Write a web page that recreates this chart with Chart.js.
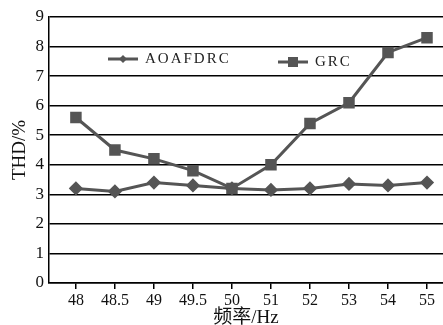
<!DOCTYPE html>
<html>
<head>
<meta charset="utf-8">
<script src="https://cdn.jsdelivr.net/npm/chart.js@4"></script>
<style>
  html, body { margin: 0; padding: 0; background: #fff; }
  #wrap { width: 443px; height: 325px; }
</style>
</head>
<body>
<div id="wrap"><canvas id="graph"></canvas></div>
<script>
const freqLabels = ["48", "48.5", "49", "49.5", "50", "51", "52", "53", "54", "55"];
const aoafdrc = [3.2, 3.1, 3.4, 3.3, 3.2, 3.15, 3.2, 3.35, 3.3, 3.4];
const grc = [5.6, 4.5, 4.2, 3.8, 3.2, 4.0, 5.4, 6.1, 7.8, 8.3];
const yTicks = [0, 1, 2, 3, 4, 5, 6, 7, 8, 9];

const serif = "'Liberation Serif', 'Times New Roman', 'Noto Sans CJK SC', serif";
const lineColor = "#555555";

/* legend drawn inside the plot, like the original */
const innerLegend = {
  id: "innerLegend",
  afterDraw(c) {
    const ctx = c.ctx;
    const items = [
      { ds: c.data.datasets[0], x: 108, y: 59 },
      { ds: c.data.datasets[1], x: 278, y: 62 }
    ];
    ctx.save();
    items.forEach(it => {
      ctx.strokeStyle = lineColor;
      ctx.fillStyle = lineColor;
      ctx.lineWidth = 3;
      ctx.beginPath();
      ctx.moveTo(it.x, it.y);
      ctx.lineTo(it.x + 30, it.y);
      ctx.stroke();
      const cx = it.x + 15;
      ctx.beginPath();
      if (it.ds.pointStyle === "rect") {
        ctx.rect(cx - 5, it.y - 5, 10, 10);
      } else {
        ctx.moveTo(cx, it.y - 4);
        ctx.lineTo(cx + 4, it.y);
        ctx.lineTo(cx, it.y + 4);
        ctx.lineTo(cx - 4, it.y);
        ctx.closePath();
      }
      ctx.fill();
      ctx.fillStyle = "#222";
      ctx.font = "15px " + serif;
      ctx.textBaseline = "middle";
      if ("letterSpacing" in ctx) ctx.letterSpacing = "2px";
      ctx.fillText(it.ds.label, it.x + 37, it.y);
    });
    ctx.restore();
  }
};

const ctxEl = document.getElementById("graph");
new Chart(ctxEl, {
  type: "line",
  data: {
    datasets: [
      {
        label: "AOAFDRC",
        data: aoafdrc.map((v, i) => ({ x: i, y: v })),
        borderColor: lineColor,
        backgroundColor: lineColor,
        borderWidth: 3,
        pointStyle: "rectRot",
        pointRadius: 5,
        tension: 0
      },
      {
        label: "GRC",
        data: grc.map((v, i) => ({ x: i, y: v })),
        borderColor: lineColor,
        backgroundColor: lineColor,
        borderWidth: 3,
        pointStyle: "rect",
        pointRadius: 6,
        tension: 0
      }
    ]
  },
  plugins: [innerLegend],
  options: {
    responsive: true,
    maintainAspectRatio: false,
    animation: false,
    layout: { autoPadding: false, padding: { top: 17, right: 0, left: 0, bottom: 0 } },
    plugins: {
      legend: { display: false },
      tooltip: { enabled: false }
    },
    scales: {
      x: {
        type: "linear",
        min: -0.69,
        max: 9.41,
        afterBuildTicks: s => { s.ticks = freqLabels.map((_, i) => ({ value: i })); },
        afterFit: s => { s.height = 42; },
        ticks: {
          color: "#111",
          font: { family: serif, size: 16 },
          padding: 2,
          maxRotation: 0,
          autoSkip: false,
          callback: v => freqLabels[v]
        },
        grid: { drawOnChartArea: false, drawTicks: true, tickLength: 6, color: "#000", lineWidth: 1.5 },
        border: { display: true, color: "#000", width: 1.5 },
        title: {
          display: true,
          text: "频率/Hz",
          color: "#111",
          font: { family: serif, size: 19 },
          padding: { top: -5, bottom: -4 }
        }
      },
      y: {
        min: 0,
        max: 9,
        afterBuildTicks: s => { s.ticks = yTicks.map(v => ({ value: v })); },
        afterFit: s => { s.width = 49; },
        ticks: {
          color: "#111",
          font: { family: serif, size: 17 },
          padding: 5
        },
        grid: { color: "#000", lineWidth: 1.5, drawTicks: false },
        border: { display: true, color: "#000", width: 1.5 },
        title: {
          display: true,
          text: "THD/%",
          color: "#111",
          font: { family: serif, size: 19 },
          padding: { top: 9, bottom: 0 }
        }
      }
    }
  }
});
</script>
</body>
</html>
